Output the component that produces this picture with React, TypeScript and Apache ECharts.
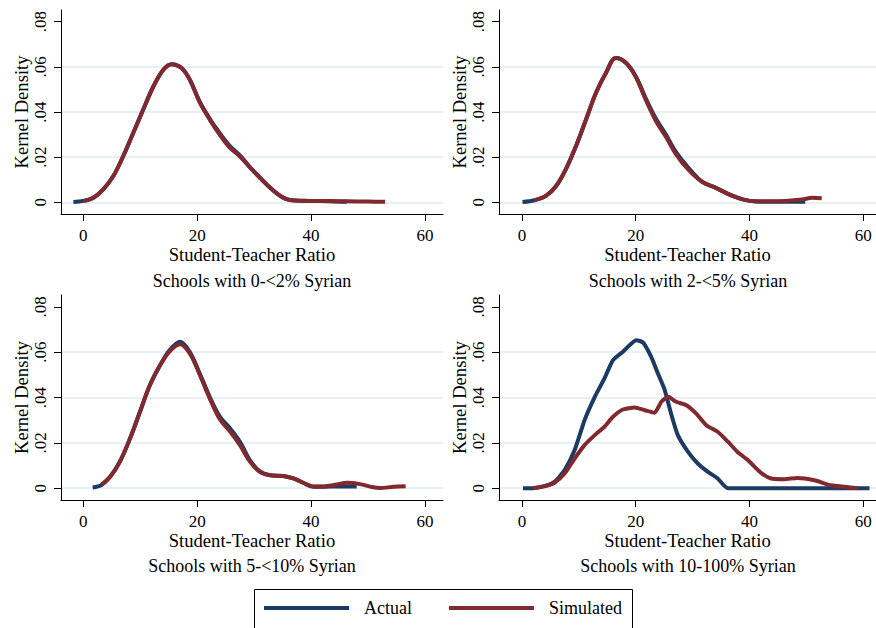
import React, { useEffect, useRef } from "react";
import * as echarts from "echarts";

const FONT = "'Liberation Serif', 'DejaVu Serif', serif";
const BLUE = "#1b3b63";
const RED = "#80292f";

const seriesNames = ["Actual", "Simulated"];
const panelTitles = [
  "Schools with 0-<2% Syrian",
  "Schools with 2-<5% Syrian",
  "Schools with 5-<10% Syrian",
  "Schools with 10-100% Syrian",
];
const xTicks = [0, 20, 40, 60];
const yTicks = [0, 0.02, 0.04, 0.06, 0.08];
const yGridValues = [0, 0.02, 0.04, 0.06];

// Panel 1: 0-<2% Syrian
const p1Actual = [
  [-1.75, 0.0001], [0, 0.0006], [1.76, 0.002], [3.5, 0.0057], [5.27, 0.0116],
  [7.0, 0.0204], [8.78, 0.0308], [10.5, 0.041], [12.3, 0.0513], [14.05, 0.0587],
  [15.5, 0.0612], [17.3, 0.0594], [18.7, 0.0543], [20.5, 0.0442], [22.25, 0.0368],
  [24, 0.0305], [25.75, 0.0249], [27.5, 0.0208], [29.3, 0.0155], [31, 0.011],
  [32.8, 0.0065], [34.6, 0.0028], [36.3, 0.001], [39.8, 0.0006], [43, 0.0005],
  [46.3, 0.0002],
];
const p1Simulated = [
  [0, 0.0005], [1.76, 0.002], [3.5, 0.0057], [5.27, 0.0116],
  [7.0, 0.0204], [8.78, 0.0308], [10.5, 0.041], [12.3, 0.0513], [14.05, 0.0587],
  [15.5, 0.0612], [17.3, 0.0594], [18.7, 0.0543], [20.5, 0.044], [22.25, 0.0364],
  [24, 0.0298], [25.75, 0.0241], [27.5, 0.0203], [29.3, 0.0153], [31, 0.0108],
  [32.8, 0.0064], [34.6, 0.0028], [36.3, 0.001], [39.8, 0.0006], [43, 0.0006],
  [46.3, 0.0004], [50, 0.0003], [53, 0.0002],
];

// Panel 2: 2-<5% Syrian
const p2Actual = [
  [0.1, 0.0001], [2.2, 0.0009], [4.2, 0.0028], [6.0, 0.0072], [7.7, 0.0146],
  [9.5, 0.0249], [11.25, 0.0366], [13, 0.0484], [14.75, 0.0573], [16.5, 0.0639],
  [18.3, 0.0617], [20, 0.0558], [21.8, 0.0458], [23.5, 0.0372], [25.3, 0.03],
  [27, 0.0226], [29.3, 0.0152], [31.7, 0.009], [34, 0.0065], [36.4, 0.0035],
  [38.8, 0.0013], [41.1, 0.0003], [43.4, 0.0002], [46.3, 0.0002], [49.8, 0.0002],
];
const p2Simulated = [
  [2.2, 0.0009], [4.2, 0.0028], [6.0, 0.0072], [7.7, 0.0146],
  [9.5, 0.0249], [11.25, 0.0366], [13, 0.0484], [14.75, 0.0573], [16.5, 0.0639],
  [18.3, 0.0617], [20, 0.0556], [21.8, 0.0452], [23.5, 0.0362], [25.3, 0.029],
  [27, 0.0216], [29.3, 0.0143], [31.7, 0.009], [34, 0.0065], [36.4, 0.0035],
  [38.8, 0.0013], [41.1, 0.0004], [43.4, 0.0004], [46.3, 0.0006], [49.2, 0.0012],
  [51, 0.002], [52.7, 0.0018],
];

// Panel 3: 5-<10% Syrian
const p3Actual = [
  [1.64, 0.0003], [3.2, 0.0014], [4.7, 0.005], [6.4, 0.0116], [8.2, 0.0219],
  [9.95, 0.0337], [11.7, 0.0455], [13.5, 0.0543], [15.2, 0.061], [17, 0.0646],
  [18.75, 0.0598], [20.5, 0.0502], [22.25, 0.04], [24, 0.0315], [25.8, 0.0263],
  [27.5, 0.0205], [29.3, 0.0122], [31, 0.0074], [32.8, 0.0057], [35.1, 0.0054],
  [36.9, 0.0043], [38.6, 0.0024], [40.4, 0.0006], [42.2, 0.0006], [44.5, 0.0008],
  [46.3, 0.0007], [48, 0.0007],
];
const p3Simulated = [
  [3.2, 0.0016], [4.7, 0.005], [6.4, 0.0116], [8.2, 0.0219],
  [9.95, 0.0337], [11.7, 0.0455], [13.5, 0.0543], [15.2, 0.0605], [17, 0.0635],
  [18.75, 0.0592], [20.5, 0.0497], [22.25, 0.0393], [24, 0.0303], [25.8, 0.0249],
  [27.5, 0.019], [29.3, 0.0116], [31, 0.0072], [32.8, 0.0057], [35.1, 0.0054],
  [36.9, 0.0043], [38.6, 0.0024], [40.4, 0.0008], [42.2, 0.0008], [44.5, 0.0016],
  [46.3, 0.0024], [48.6, 0.0018], [50.4, 0.0007], [52.1, 0.0001], [54.5, 0.0006],
  [56.6, 0.0009],
];

// Panel 4: 10-100% Syrian
const p4Actual = [
  [0.18, 0], [1.9, 0], [4, 0.0009], [5.7, 0.0028], [7.5, 0.008],
  [9.26, 0.0168], [11, 0.03], [12.8, 0.0403], [14.5, 0.0484], [16, 0.0565],
  [17.75, 0.0602], [20.1, 0.0653], [21.3, 0.0642], [22.7, 0.058], [23.9, 0.0506],
  [25.1, 0.0433], [26.2, 0.033], [27.4, 0.0234], [29.2, 0.016], [30.9, 0.0109],
  [32.7, 0.0072], [34.4, 0.0043], [36.2, 0], [45, 0], [55, 0], [61.1, 0],
];
const p4Simulated = [
  [1.9, 0], [4, 0.0009], [5.7, 0.0024], [7.5, 0.0065], [9.26, 0.0131],
  [11, 0.019], [12.8, 0.0234], [14.5, 0.0271], [16, 0.0315], [17.75, 0.0347],
  [19.8, 0.0356], [21.6, 0.0344], [23.3, 0.0333], [24.5, 0.0381], [25.7, 0.0403],
  [27.1, 0.0381], [28.9, 0.0366], [30.6, 0.033], [32.4, 0.0278], [34.4, 0.0249],
  [36.2, 0.0205], [37.9, 0.016], [39.7, 0.0124], [42, 0.0068], [43.8, 0.0043],
  [46.1, 0.004], [48.4, 0.0045], [51.4, 0.0035], [54.3, 0.0013], [56.7, 0.0006],
  [59, 0],
];

const panelData = [
  [p1Actual, p1Simulated],
  [p2Actual, p2Simulated],
  [p3Actual, p3Simulated],
  [p4Actual, p4Simulated],
];

const grids = [
  { left: 61, top: 10, width: 382, height: 204 },
  { left: 499, top: 10, width: 377, height: 204 },
  { left: 61, top: 295, width: 382, height: 205 },
  { left: 499, top: 295, width: 377, height: 205 },
];
const xRanges = [
  [-3.92, 63.16],
  [-4.04, 62.24],
  [-3.92, 63.16],
  [-4.04, 62.24],
];
const Y_MIN = -0.0052;
const Y_MAX = 0.0852;

function fmtY(v: number) {
  if (v === 0) return "0";
  return v.toFixed(2).replace(/^0\./, ".");
}

export default function App() {
  const ref = useRef<HTMLDivElement>(null);
  useEffect(() => {
    if (!ref.current) return;
    const chart = echarts.init(ref.current, undefined, { renderer: "svg" });
    const textBase = { fontFamily: FONT, color: "#000" };

    const xAxis = grids.map((_, i) => ({
      gridIndex: i,
      type: "value",
      min: xRanges[i][0],
      max: xRanges[i][1],
      axisLine: { show: true, onZero: false, lineStyle: { color: "#000", width: 1 } },
      axisTick: { show: true, inside: false, length: 7, customValues: xTicks, lineStyle: { color: "#000" } },
      axisLabel: { customValues: xTicks, margin: 13, fontSize: 17, ...textBase },
      splitLine: { show: false },
      name: "Student-Teacher Ratio",
      nameLocation: "middle",
      nameGap: 30,
      nameTextStyle: { fontSize: 18.6, ...textBase },
    }));

    const yAxis: any[] = [];
    grids.forEach((_, i) => {
      yAxis.push({
        gridIndex: i,
        type: "value",
        position: "left",
        min: Y_MIN,
        max: Y_MAX,
        axisLine: { show: true, onZero: false, lineStyle: { color: "#000", width: 1 } },
        axisTick: { show: true, inside: false, length: 7, customValues: yTicks, lineStyle: { color: "#000" } },
        axisLabel: { customValues: yTicks, rotate: 90, margin: 12, fontSize: 17, formatter: fmtY, ...textBase },
        splitLine: { show: false },
        name: "Kernel Density",
        nameLocation: "middle",
        nameGap: 30,
        nameTextStyle: { fontSize: 18.6, ...textBase },
      });
      yAxis.push({
        gridIndex: i,
        type: "value",
        position: "right",
        min: Y_MIN,
        max: Y_MAX,
        axisLine: { show: false },
        axisTick: { show: false, customValues: yGridValues },
        axisLabel: { show: false, customValues: yGridValues },
        splitLine: { show: true, lineStyle: { color: "#e2ebee", width: 1.5 } },
      });
    });

    const series: any[] = [];
    panelData.forEach((pair, i) => {
      pair.forEach((data, k) => {
        series.push({
          name: seriesNames[k],
          type: "line",
          xAxisIndex: i,
          yAxisIndex: i * 2,
          data,
          symbol: "none",
          showSymbol: false,
          smooth: i === 3 ? 0.2 : 0.35,
          lineStyle: { width: 4, color: k === 0 ? BLUE : RED, cap: "butt", join: "round" },
          itemStyle: { color: k === 0 ? BLUE : RED },
          z: 2 + k,
          silent: true,
        });
      });
    });

    const titleCenters = [
      [252, 272],
      [688, 272],
      [252, 557],
      [688, 557],
    ];

    chart.setOption({
      animation: false,
      backgroundColor: "#fff",
      grid: grids.map((g) => ({ ...g, containLabel: false })),
      xAxis,
      yAxis,
      series,
      title: panelTitles.map((t, i) => ({
        text: t,
        left: titleCenters[i][0],
        top: titleCenters[i][1],
        textAlign: "center",
        padding: 0,
        textStyle: { fontSize: 18, fontWeight: "normal", ...textBase },
      })),
      legend: {
        data: seriesNames,
        left: 264,
        top: 599,
        icon: "rect",
        itemWidth: 85,
        itemHeight: 4,
        itemGap: 37,
        padding: 0,
        selectedMode: false,
        textStyle: { fontSize: 18, padding: [0, 0, 0, 10], ...textBase },
      },
      graphic: [
        {
          type: "rect",
          silent: true,
          shape: { x: 254.5, y: 589.5, width: 378, height: 60 },
          style: { fill: "none", stroke: "#000", lineWidth: 1 },
        },
      ],
    });
    return () => chart.dispose();
  }, []);
  return (
    <div
      ref={ref}
      style={{ position: "fixed", left: 0, top: 0, width: 876, height: 628, background: "#fff" }}
    />
  );
}
